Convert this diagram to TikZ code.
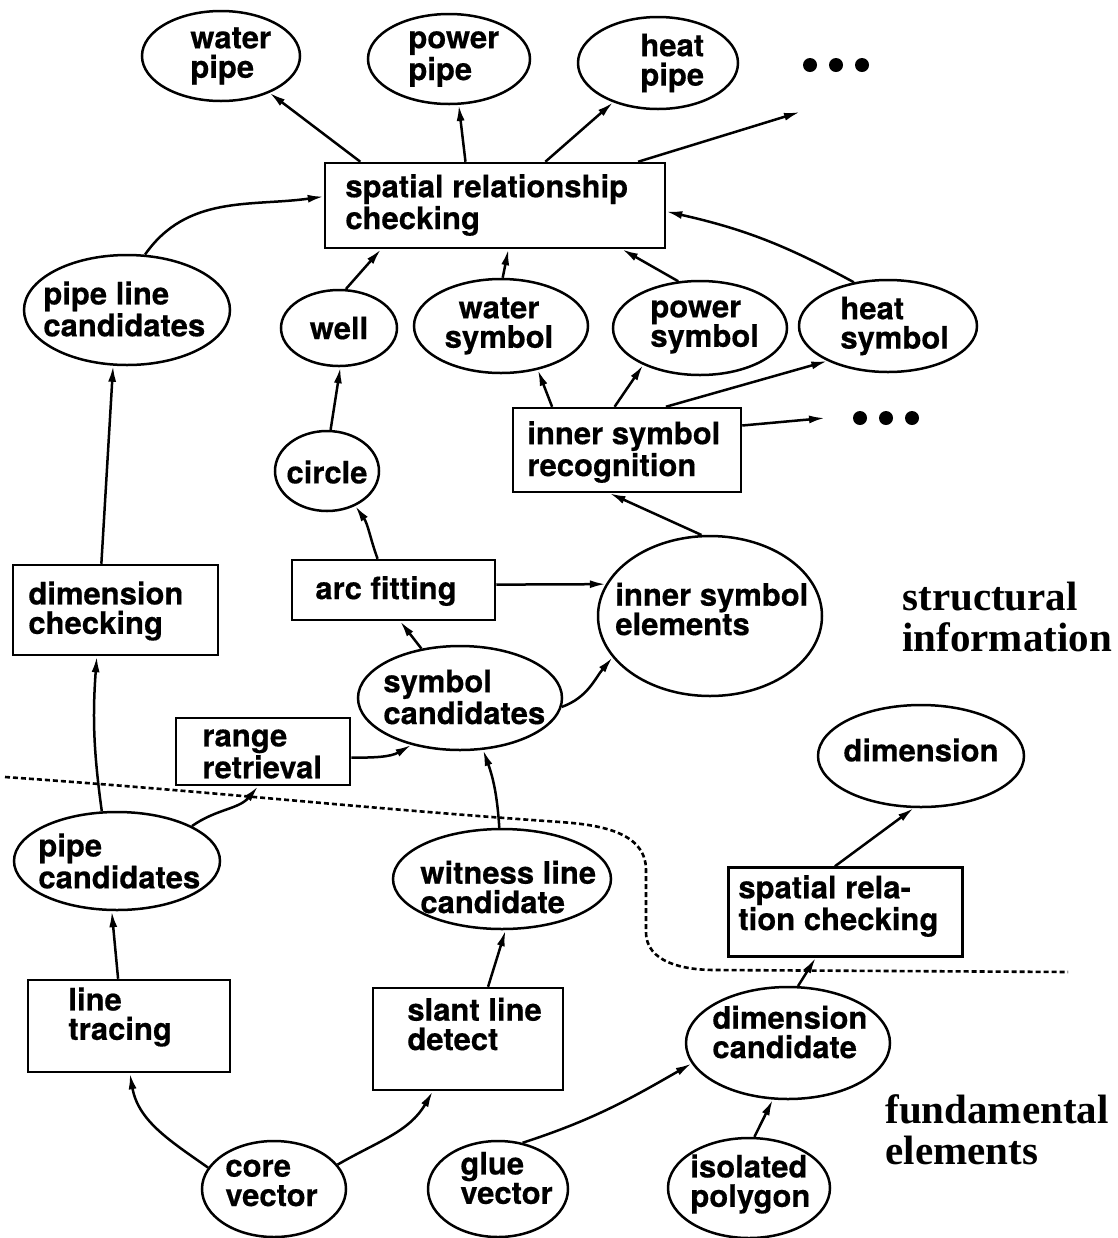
\documentclass[tikz,border=0pt]{standalone}
\usepackage{fontspec}
\setmainfont{TeX Gyre Heros}[BoldFeatures={FakeBold=0.4}]
\newfontfamily\serifbold{Liberation Serif}
\usetikzlibrary{arrows.meta,shapes.geometric}
\newcommand\lab{\fontsize{15.5pt}{14.7pt}\selectfont\bfseries}
\newcommand\bigserif{\serifbold\fontsize{20.5pt}{20.5pt}\selectfont\bfseries}
\tikzset{
  ell/.style={draw, ellipse, line width=1.25pt, inner sep=0pt},
  box/.style={draw, rectangle, line width=1.25pt, inner sep=0pt},
  txt/.style={font=\lab, align=left, inner sep=0pt, anchor=west},
  ctxt/.style={font=\lab, align=center, inner sep=0pt},
  arr/.style={-{Latex[length=8pt,width=4pt]}, line width=1.25pt},
  dotn/.style={circle, fill, inner sep=0pt, minimum size=7pt},
  dotline/.style={line width=1.3pt, dash pattern=on 2.5pt off 1.5pt},
  side/.style={font=\bigserif, align=left, inner sep=0pt, anchor=west},
}
\begin{document}
\begin{tikzpicture}[x=0.5pt,y=-0.5pt]
\useasboundingbox (0,0) rectangle (1118,1238);
% top row
\node[ell, minimum width=79pt, minimum height=45pt] (wp) at (221,56) {};
\node[txt] (wpT) at (190,56) {water\\pipe};
\node[ell, minimum width=81pt, minimum height=45pt] (pp) at (449,59) {};
\node[txt] (ppT) at (408,59) {power\\pipe};
\node[ell, minimum width=80pt, minimum height=46pt] (hp) at (658,63) {};
\node[txt] (hpT) at (640,63) {heat\\pipe};
\node[dotn] (d1) at (810,65) {};
\node[dotn] (d2) at (836,65) {};
\node[dotn] (d3) at (862,65) {};
% spatial relationship checking
\node[box, minimum width=170pt, minimum height=42.5pt] (src) at (495,205.5) {};
\node[txt] (srcT) at (345,205) {spatial relationship\\checking};
% second row
\node[ell, minimum width=103pt, minimum height=55pt] (plc) at (127,310) {};
\node[txt] (plcT) at (43,309) {pipe line\\candidates};
\node[ell, minimum width=58pt, minimum height=38pt] (well) at (339,328) {};
\node[ctxt] (wellT) at (339,328) {well};
\node[ell, minimum width=87pt, minimum height=47pt] (ws) at (501,326) {};
\node[ctxt] (wsT) at (499,326) {water\\symbol};
\node[ell, minimum width=87pt, minimum height=47pt] (ps) at (700,328) {};
\node[txt] (psT) at (650,327) {power\\symbol};
\node[ell, minimum width=89pt, minimum height=46pt] (hs) at (888,326) {};
\node[txt] (hsT) at (840,326) {heat\\symbol};
% inner symbol recognition
\node[box, minimum width=114pt, minimum height=42pt] (isr) at (627,450) {};
\node[txt] (isrT) at (527,452) {inner symbol\\recognition};
\node[dotn] (d4) at (860,418) {};
\node[dotn] (d5) at (886,418) {};
\node[dotn] (d6) at (912,418) {};
% circle
\node[ell, minimum width=52pt, minimum height=40pt] (circ) at (327,471) {};
\node[ctxt] (circT) at (327,472) {circle};
% arc fitting, dimension checking
\node[box, minimum width=101.5pt, minimum height=30pt] (af) at (393.5,590) {};
\node[txt] (afT) at (315,591) {arc fitting};
\node[box, minimum width=102.5pt, minimum height=45pt] (dc) at (115.5,610) {};
\node[txt] (dcT) at (28,611) {dimension\\checking};
\node[ell, minimum width=112pt, minimum height=80pt] (ise) at (710,616) {};
\node[txt] (iseT) at (615,609) {inner symbol\\elements};
% symbol candidates, range retrieval
\node[ell, minimum width=102pt, minimum height=52pt] (sc) at (460,698) {};
\node[txt] (scT) at (383,697) {symbol\\candidates};
\node[box, minimum width=87pt, minimum height=33.5pt] (rr) at (263,751.5) {};
\node[txt] (rrT) at (202,754) {range\\retrieval};
\node[ell, minimum width=103pt, minimum height=51pt] (dim) at (921,756) {};
\node[ctxt] (dimT) at (921,750) {dimension};
% lower part
\node[ell, minimum width=103pt, minimum height=49pt] (pc) at (117,861) {};
\node[txt] (pcT) at (38,861) {pipe\\candidates};
\node[ell, minimum width=109pt, minimum height=50pt] (wlc) at (502,879) {};
\node[txt] (wlcT) at (420,887) {witness line\\candidate};
\node[box, minimum width=117pt, minimum height=44.5pt] (srel) at (845.5,912) {};
\node[txt] (srelT) at (738,906) {spatial rela-\\tion checking};
\node[box, minimum width=101pt, minimum height=46pt] (lt) at (129,1026) {};
\node[txt] (ltT) at (68,1017) {line\\tracing};
\node[box, minimum width=95pt, minimum height=51pt] (sld) at (468,1039) {};
\node[txt] (sldT) at (407,1024) {slant line\\detect};
\node[ell, minimum width=102pt, minimum height=56pt] (dcand) at (788,1043) {};
\node[txt] (dcandT) at (712,1032) {dimension\\candidate};
\node[ell, minimum width=72pt, minimum height=48pt] (cv) at (274,1189) {};
\node[txt] (cvT) at (225,1183) {core\\vector};
\node[ell, minimum width=70pt, minimum height=48pt] (gv) at (498,1189) {};
\node[txt] (gvT) at (460,1178) {glue\\vector};
\node[ell, minimum width=81pt, minimum height=50pt] (ip) at (749,1188) {};
\node[txt] (ipT) at (690,1184) {isolated\\polygon};
% side labels
\node[side] (structT) at (902,617) {structural\\information};
\node[side] (fundT) at (885,1130) {fundamental\\elements};
% dotted separator
\draw[dotline] (5,777) to[out=-4,in=176] (560,822) to[out=-4,in=90] (646,870) -- (646,932) to[out=-90,in=180] (715,970) -- (1068,972);
% connectors
\coordinate (e1) at (800,112);
\coordinate (e2) at (825,418);
\draw[arr] (src.162) -- (wp);
\draw[arr] (src.124) -- (pp.-78);
\draw[arr] (src.41) -- (hp);
\draw[arr] (src.17) -- (e1);
\draw[arr] (plc.72) to[out=55,in=188] (src.177);
\draw[arr] (well.80) -- (src.-159);
\draw[arr] (ws.88) -- (src.-73);
\draw[arr] (ps.115) -- (src.-19);
\draw[arr] (hs.128) to[bend right=8] (src.-2);
\draw[arr] (isr.150) -- (ws.-50);
\draw[arr] (isr.106) -- (ps.-147);
\draw[arr] (isr.48) -- (hs.-150);
\draw[arr] (isr.12) -- (e2);
\draw[arr] (ise.96) -- (isr.-112);
\draw[arr] (circ.85) -- (well.-88);
\draw[arr] (af.117) to[out=110,in=-55] (circ.-51);
\draw[arr] (af.3) -- (ise.163);
\draw[arr] (sc.128) -- (af.-78);
\draw[arr] (sc.-5) to[out=20,in=-130] (ise.-157);
\draw[arr] (dc.107) -- (plc.-104);
\draw[arr] (pc.107) to[bend left=6] (dc.-112);
\draw[arr] (pc.25) to[out=35,in=-130] (rr.-98);
\draw[arr] (rr.-4) to[out=0,in=-150] (sc.-136);
\draw[arr] (wlc.93) to[bend right=8] (sc.-66);
\draw[arr] (lt.103) -- (pc.-96);
\draw[arr] (cv.162) to[out=145,in=-80] (lt.-89);
\draw[arr] (cv.21) to[out=30,in=-120] (sld.-124);
\draw[arr] (sld.69) -- (wlc.-86);
\draw[arr] (gv.62) to[out=18,in=-150] (dcand.-168);
\draw[arr] (ip.84) -- (dcand.-105);
\draw[arr] (dcand.80) -- (srel.-123);
\draw[arr] (srel.103) -- (dim.-98);
\end{tikzpicture}
\end{document}
